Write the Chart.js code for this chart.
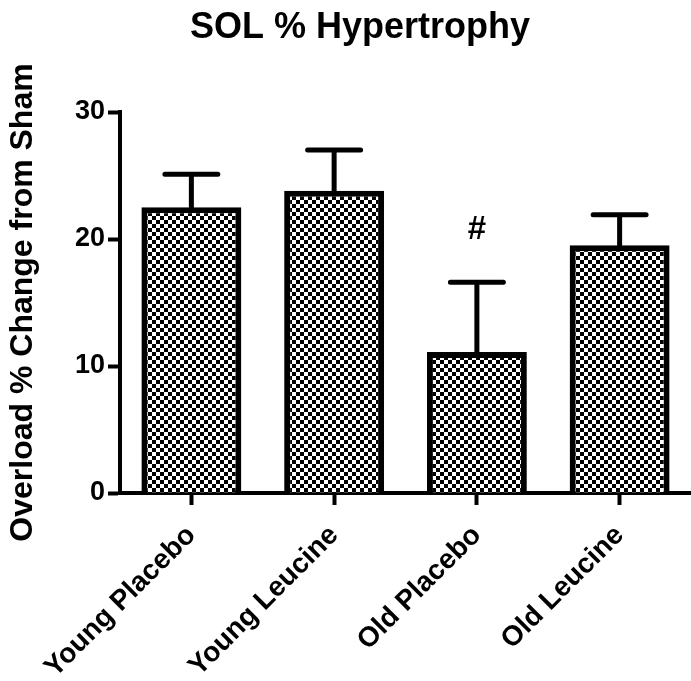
<!DOCTYPE html>
<html><head><meta charset="utf-8">
<script src="https://cdn.jsdelivr.net/npm/chart.js@4"></script>
<style>html,body{margin:0;padding:0;background:#fff}#wrap{width:691px;height:681px}</style>
</head><body><div id="wrap"><canvas id="c" width="691" height="681"></canvas></div>
<script>
const chartTitle = 'SOL % Hypertrophy';
const yAxisTitle = 'Overload % Change from Sham';
const categories = ['Young Placebo', 'Young Leucine', 'Old Placebo', 'Old Leucine'];
const meanValues = [22.5, 23.8, 11.1, 19.5];
const semValues = [2.6, 3.2, 5.5, 2.4];
const yTicks = [0, 10, 20, 30];
const markText = ['', '', '#', ''];
const markValues = [null, null, 20.7, null];

const FONT = "'Liberation Sans', Arial, Helvetica, sans-serif";

function checkerPattern() {
  const p = document.createElement('canvas');
  p.width = 8; p.height = 8;
  const g = p.getContext('2d');
  g.fillStyle = '#fff'; g.fillRect(0, 0, 8, 8);
  g.fillStyle = '#000'; g.fillRect(0, 0, 4, 4); g.fillRect(4, 4, 4, 4);
  return document.getElementById('c').getContext('2d').createPattern(p, 'repeat');
}

const errorBars = {
  id: 'errorBars',
  afterDatasetsDraw(chart) {
    const ctx = chart.ctx, y = chart.scales.y;
    const meta = chart.getDatasetMeta(0);
    ctx.save();
    ctx.strokeStyle = '#000'; ctx.lineWidth = 5; ctx.lineCap = 'round';
    meta.data.forEach((bar, i) => {
      const top = y.getPixelForValue(meanValues[i] + semValues[i]);
      const half = bar.width * 0.265;
      ctx.beginPath();
      ctx.moveTo(bar.x, bar.y); ctx.lineTo(bar.x, top);
      ctx.moveTo(bar.x - half, top); ctx.lineTo(bar.x + half, top);
      ctx.stroke();
    });
    ctx.fillStyle = '#000';
    ctx.font = 'bold 33px ' + FONT;
    ctx.textAlign = 'center'; ctx.textBaseline = 'middle';
    meta.data.forEach((bar, i) => {
      if (markText[i]) ctx.fillText(markText[i], bar.x, y.getPixelForValue(markValues[i]));
    });
    ctx.restore();
  }
};

const titlePlugin = {
  id: 'customTitle',
  afterDraw(chart) {
    const ctx = chart.ctx;
    ctx.save();
    ctx.fillStyle = '#000';
    ctx.font = 'bold 36px ' + FONT;
    ctx.textAlign = 'center'; ctx.textBaseline = 'alphabetic';
    ctx.fillText(chartTitle, 360, 38);
    ctx.restore();
  }
};

new Chart(document.getElementById('c'), {
  type: 'bar',
  data: {
    labels: categories,
    datasets: [{
      data: meanValues,
      backgroundColor: checkerPattern(),
      borderColor: '#000',
      borderWidth: 6,
      borderSkipped: 'start',
      barPercentage: 0.70,
      categoryPercentage: 1.0
    }]
  },
  options: {
    responsive: false,
    animation: false,
    devicePixelRatio: 1,
    layout: { padding: { top: 112, right: -4, left: 0, bottom: 0 } },
    plugins: { legend: { display: false }, tooltip: { enabled: false }, title: { display: false } },
    scales: {
      x: {
        type: 'category',
        offset: true,
        afterFit(s) { s.height = 188; },
        grid: { offset: false, drawOnChartArea: false, tickLength: 12, tickWidth: 4, color: '#000' },
        border: { display: true, width: 4, color: '#000' },
        ticks: { color: '#000', maxRotation: 45, minRotation: 45, padding: 14, font: { family: FONT, size: 28, weight: 'bold' } }
      },
      y: {
        min: 0, max: 30,
        afterFit(s) { s.width = 120; },
        afterBuildTicks(s) { s.ticks = yTicks.map(v => ({ value: v })); },
        grid: { drawOnChartArea: false, tickLength: 12, tickWidth: 4, color: '#000' },
        border: { display: true, width: 4, color: '#000' },
        ticks: { color: '#000', padding: 3, font: { family: FONT, size: 27, weight: 'bold' } },
        title: { display: true, text: yAxisTitle, color: '#000', padding: { top: 4, bottom: 0 }, font: { family: FONT, size: 32, weight: 'bold' } }
      }
    }
  },
  plugins: [errorBars, titlePlugin]
});
</script>
</body></html>
